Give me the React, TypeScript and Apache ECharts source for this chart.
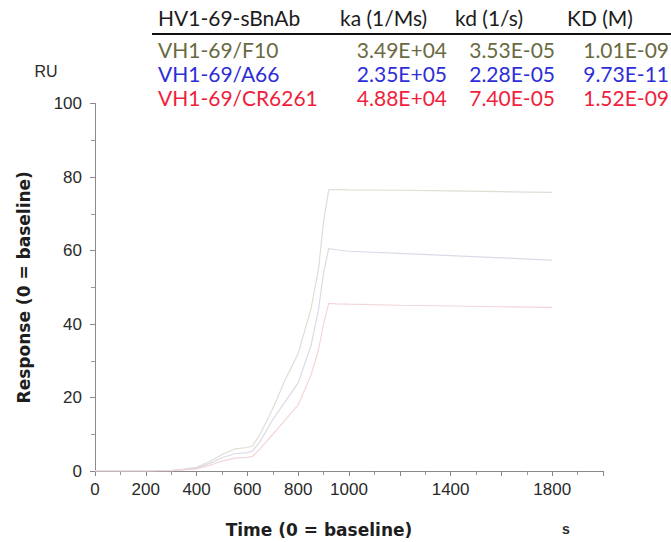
import React, { useEffect, useRef } from "react";
import * as echarts from "echarts";

// Sensorgram sample times (s)
const times = [0, 100, 200, 300, 350, 400, 450, 500, 550, 600, 620, 650, 700, 750, 800, 850, 880, 900, 920, 950, 1000, 1200, 1400, 1600, 1800];

// Response traces (RU)
const f10Trace = [0, 0, 0, 0.2, 0.5, 1.0, 2.5, 4.5, 6.0, 6.4, 6.8, 10, 17, 25, 32, 44, 55, 68, 76.5, 76.6, 76.5, 76.4, 76.2, 76.0, 75.8];
const a66Trace = [0, 0, 0, 0.1, 0.4, 0.8, 2.0, 3.6, 4.7, 5.0, 5.4, 8, 14, 19, 24, 34, 44, 54, 60.5, 60.2, 59.8, 59.2, 58.6, 58.0, 57.4];
const cr6261Trace = [0, 0, 0, 0.1, 0.3, 0.6, 1.5, 2.7, 3.5, 3.7, 4.0, 6, 10, 14, 18, 26, 33, 40, 45.6, 45.5, 45.4, 45.1, 44.9, 44.7, 44.5];

// Kinetics table
const tableHeader = ["HV1-69-sBnAb", "ka (1/Ms)", "kd (1/s)", "KD (M)"];
const antibodies = ["VH1-69/F10", "VH1-69/A66", "VH1-69/CR6261"];
const kaValues = ["3.49E+04", "2.35E+05", "4.88E+04"];
const kdValues = ["3.53E-05", "2.28E-05", "7.40E-05"];
const KDValues = ["1.01E-09", "9.73E-11", "1.52E-09"];
const rowColors = ["#6a6a42", "#2e2ed8", "#ef1f3d"];
const traceColors = ["#e0ddd4", "#dcdae6", "#f3d6d8"];

const xLabelsShown = [0, 200, 400, 600, 800, 1000, 1400, 1800];

export default function App() {
  const ref = useRef<HTMLDivElement>(null);

  useEffect(() => {
    if (!ref.current) return;
    const chart = echarts.init(ref.current, undefined, { renderer: "svg" });

    const tableFont = "Lato, 'Open Sans', sans-serif";
    const axisFont = "'Liberation Sans', Arial, sans-serif";
    const titleFont = "'DejaVu Sans', 'Liberation Sans', sans-serif";
    const rowY = [49, 73, 97];

    const tableGraphics: any[] = [];
    const headerX = [158, 340, 455, 567];
    tableHeader.forEach((h, i) => {
      tableGraphics.push({
        type: "text",
        x: headerX[i],
        y: 17,
        style: { text: h, fill: "#1c1c1c", font: `21px ${tableFont}`, textAlign: "left", textVerticalAlign: "middle" },
      });
    });
    tableGraphics.push({
      type: "line",
      shape: { x1: 152, y1: 34, x2: 671, y2: 34 },
      style: { stroke: "#111", lineWidth: 2 },
    });
    antibodies.forEach((name, r) => {
      const color = rowColors[r];
      const cells: [string, number, string][] = [
        [name, 158, "left"],
        [kaValues[r], 447, "right"],
        [kdValues[r], 555, "right"],
        [KDValues[r], 669, "right"],
      ];
      cells.forEach(([t, x, align]) => {
        tableGraphics.push({
          type: "text",
          x,
          y: rowY[r],
          style: { text: t, fill: color, font: `21px ${tableFont}`, textAlign: align, textVerticalAlign: "middle" },
        });
      });
    });

    const mkSeries = (name: string, vals: number[], color: string) => ({
      name,
      type: "line",
      data: times.map((t, i) => [t, vals[i]]),
      showSymbol: false,
      lineStyle: { color, width: 1.2 },
      itemStyle: { color },
    });

    chart.setOption({
      animation: false,
      backgroundColor: "#ffffff",
      grid: { left: 95, right: 68, top: 103.5, bottom: 71, outerBoundsMode: "none", containLabel: false },
      xAxis: {
        type: "value",
        min: 0,
        max: 2000,
        interval: 200,
        name: "Time (0 = baseline)",
        nameLocation: "middle",
        nameGap: 50,
        nameTextStyle: {
          fontFamily: titleFont,
          fontWeight: "bold",
          fontSize: 17,
          color: "#1e1e1e",
          padding: [0, 60, 0, 0],
        },
        axisLine: { show: true, lineStyle: { color: "#8a8a8a", width: 1 } },
        axisTick: { show: true, length: 5, lineStyle: { color: "#8a8a8a" } },
        minorTick: { show: true, splitNumber: 2, length: 4, lineStyle: { color: "#9a9a9a" } },
        splitLine: { show: false },
        axisLabel: {
          fontFamily: axisFont,
          fontSize: 17,
          color: "#2a2a2a",
          margin: 10,
          formatter: (v: number) => (xLabelsShown.includes(v) ? String(v) : ""),
        },
      },
      yAxis: {
        type: "value",
        min: 0,
        max: 100,
        interval: 20,
        name: "Response (0 = baseline)",
        nameLocation: "middle",
        nameGap: 63,
        nameRotate: 90,
        nameTextStyle: { fontFamily: titleFont, fontWeight: "bold", fontSize: 17, color: "#1e1e1e" },
        axisLine: { show: true, lineStyle: { color: "#8a8a8a", width: 1 } },
        axisTick: { show: true, length: 5, lineStyle: { color: "#8a8a8a" } },
        minorTick: { show: true, splitNumber: 2, length: 4, lineStyle: { color: "#9a9a9a" } },
        splitLine: { show: false },
        axisLabel: { fontFamily: axisFont, fontSize: 17, color: "#2a2a2a", margin: 13 },
      },
      series: [
        mkSeries(antibodies[0], f10Trace, traceColors[0]),
        mkSeries(antibodies[1], a66Trace, traceColors[1]),
        mkSeries(antibodies[2], cr6261Trace, traceColors[2]),
      ],
      graphic: [
        ...tableGraphics,
        {
          type: "text",
          x: 46,
          y: 71,
          style: { text: "RU", fill: "#2a2a2a", font: `16px ${axisFont}`, textAlign: "center", textVerticalAlign: "middle" },
        },
        {
          type: "text",
          x: 566,
          y: 529,
          style: { text: "s", fill: "#2a2a2a", font: `bold 14px ${axisFont}`, textAlign: "center", textVerticalAlign: "middle" },
        },
      ],
    });

    return () => chart.dispose();
  }, []);

  return <div ref={ref} style={{ width: 671, height: 542, position: "absolute", left: 0, top: 0 }} />;
}
